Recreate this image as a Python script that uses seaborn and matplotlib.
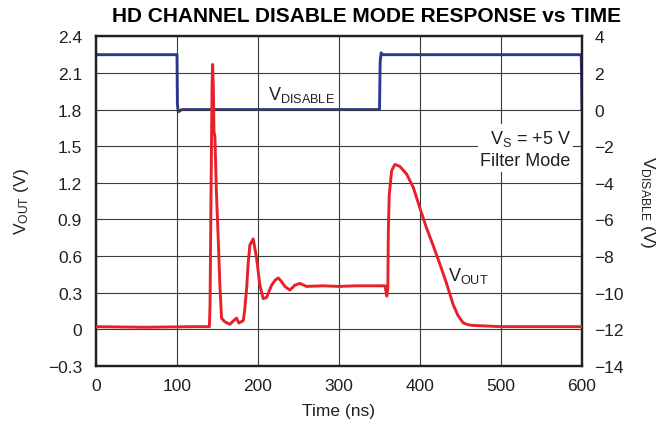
import matplotlib
matplotlib.use('Agg')
import matplotlib.pyplot as plt
import seaborn as sns

sns.set_style('white')
plt.rcParams['font.family'] = ['Liberation Sans', 'DejaVu Sans']
plt.rcParams['mathtext.fontset'] = 'custom'
plt.rcParams['mathtext.rm'] = 'Liberation Sans'
plt.rcParams['mathtext.it'] = 'Liberation Sans'

# V_OUT trace (ns, V)
t_out = [0, 60, 120, 140, 140.8, 142, 143.3, 144, 144.8, 145.6, 146.8, 148.5, 150.9,
         153, 155, 159, 165.3, 170, 173.5, 176.4, 181.8, 183.5, 185.9, 188, 190,
         194.1, 198.3, 202.3, 206.4, 210.6, 216.8, 221, 225, 229, 233.2, 239.4,
         245.5, 251.7, 259.9, 280, 300, 320, 340, 356.8, 359, 360.3, 360.9, 362,
         365, 369, 375, 383.6, 391.8, 400, 408, 416, 424.7, 433, 441, 447, 453.5,
         460, 466, 500, 550, 600]
v_out = [0.02, 0.015, 0.02, 0.02, 0.2, 1.1, 2.0, 2.17, 2.0, 1.62, 1.58, 1.15, 0.74,
         0.35, 0.09, 0.06, 0.04, 0.07, 0.09, 0.05, 0.07, 0.15, 0.33, 0.55, 0.69,
         0.74, 0.58, 0.36, 0.25, 0.26, 0.36, 0.40, 0.42, 0.39, 0.35, 0.32,
         0.36, 0.375, 0.35, 0.355, 0.35, 0.355, 0.355, 0.355, 0.27, 0.33, 0.8, 1.1,
         1.3, 1.35, 1.335, 1.27, 1.16, 0.99, 0.83, 0.69, 0.53, 0.37, 0.2, 0.11, 0.05,
         0.035, 0.03, 0.02, 0.02, 0.02]

# V_DISABLE trace (ns, V) on the right axis
t_dis = [0, 100, 100.5, 101.5, 104, 106, 350, 350.8, 352, 354, 599, 599.6, 600]
v_dis = [3.0, 3.0, 0.3, -0.12, -0.05, 0.0, 0.0, 2.6, 3.1, 3.0, 3.0, 1.5, 0.0]

x_ticks = [0, 100, 200, 300, 400, 500, 600]
left_ticks = [-0.3, 0, 0.3, 0.6, 0.9, 1.2, 1.5, 1.8, 2.1, 2.4]
left_labels = ['\u22120.3', '0', '0.3', '0.6', '0.9', '1.2', '1.5', '1.8', '2.1', '2.4']
right_ticks = [-14, -12, -10, -8, -6, -4, -2, 0, 2, 4]
right_labels = ['\u221214', '\u221212', '\u221210', '\u22128', '\u22126', '\u22124', '\u22122', '0', '2', '4']

red = '#E8202A'
blue = '#2B3990'
ink = '#231F20'

fig = plt.figure(figsize=(6.67, 4.31), dpi=100)
ax = fig.add_axes([96 / 667, 1 - 366.7 / 431, 486 / 667, 329.3 / 431])
ax2 = ax.twinx()

sns.lineplot(x=t_dis, y=v_dis, ax=ax2, color=blue, linewidth=2.1, estimator=None, sort=False)
sns.lineplot(x=t_out, y=v_out, ax=ax, color=red, linewidth=2.1, estimator=None, sort=False, zorder=5)

ax.set_zorder(ax2.get_zorder() + 1)
ax.patch.set_visible(False)

ax.set_xlim(0, 600)
ax.set_ylim(-0.3, 2.4)
ax2.set_ylim(-14, 4)
ax.set_xticks(x_ticks)
ax.set_xticklabels([str(v) for v in x_ticks])
ax.set_yticks(left_ticks)
ax.set_yticklabels(left_labels)
ax2.set_yticks(right_ticks)
ax2.set_yticklabels(right_labels)

ax.grid(True, color='#3a3a3a', linewidth=0.8)
ax2.grid(False)
for a in (ax, ax2):
    a.tick_params(length=0, labelsize=12.5, colors=ink)
    for s in a.spines.values():
        s.set_color(ink)
        s.set_linewidth(1.6)
ax.tick_params(axis='y', pad=10)
ax.tick_params(axis='x', pad=9)
ax2.tick_params(axis='y', pad=9)

ax.set_xlabel('Time (ns)', fontsize=12.5, labelpad=7, color=ink)
ax.set_ylabel('V$_{\\mathrm{OUT}}$ (V)', fontsize=12.5, labelpad=12, color=ink)
ax2.set_ylabel('V$_{\\mathrm{DISABLE}}$ (V)', fontsize=12.5, rotation=270, labelpad=24, color=ink)

fig.text(367 / 667, 1 - 16 / 431, 'HD CHANNEL DISABLE MODE RESPONSE vs TIME',
         ha='center', va='center', fontsize=15, fontweight='bold', color='black')

ax.text(253, 1.93, 'V$_{\\mathrm{DISABLE}}$', fontsize=13, ha='center', va='center', zorder=6, color=ink)
ax.text(459, 0.44, 'V$_{\\mathrm{OUT}}$', fontsize=13, ha='center', va='center', zorder=6, color=ink)
ax.text(586, 1.48, 'V$_{\\mathrm{S}}$ = +5 V\nFilter Mode', fontsize=13, ha='right', va='center',
        multialignment='right', linespacing=1.35, zorder=6, color=ink,
        bbox=dict(facecolor='white', edgecolor='none', pad=2))

fig.savefig('out.png', dpi=100)
